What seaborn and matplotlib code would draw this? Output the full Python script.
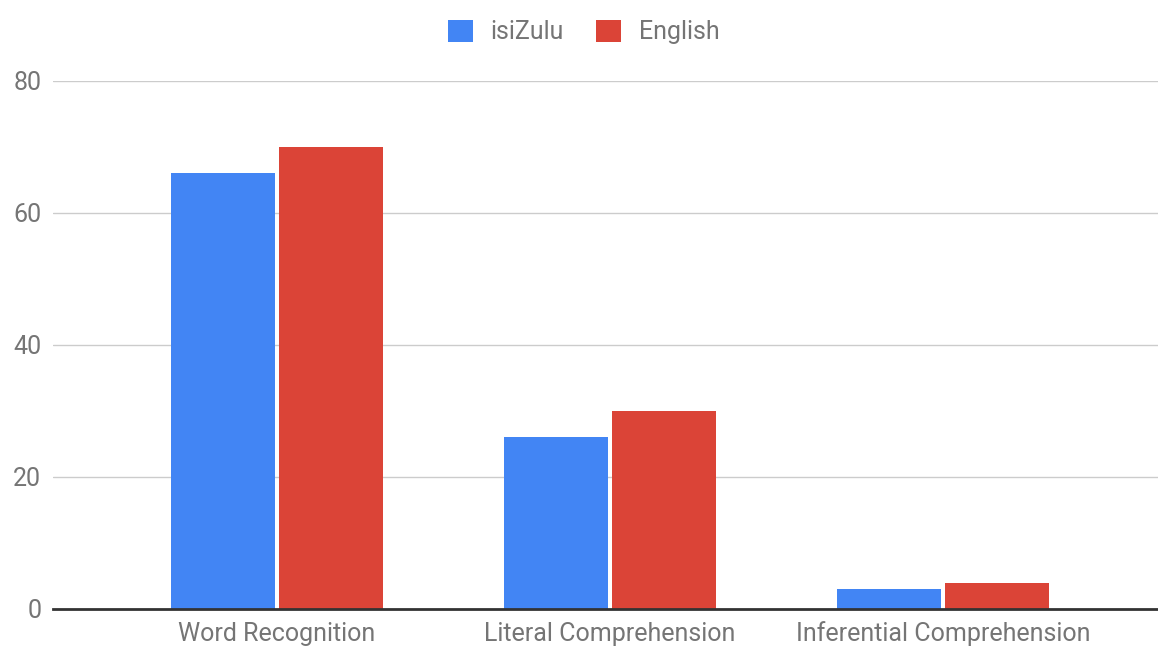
import matplotlib
matplotlib.use("Agg")
import matplotlib.pyplot as plt
import seaborn as sns
import pandas as pd
from matplotlib.patches import Patch

categories = ["Word Recognition", "Literal Comprehension", "Inferential Comprehension"]
isizulu = [66, 26, 3]
english = [70, 30, 4]
series_names = ["isiZulu", "English"]
colors = ["#4285F4", "#DB4437"]
y_ticks = [0, 20, 40, 60, 80]

df = pd.DataFrame({
    "category": categories * 2,
    "value": isizulu + english,
    "language": [series_names[0]] * 3 + [series_names[1]] * 3,
})

sns.set_theme(style="white")
plt.rcParams["font.family"] = ["Roboto", "DejaVu Sans"]

fig = plt.figure(figsize=(11.58, 6.46), dpi=100)
ax = fig.add_axes([53 / 1158, 1 - 609 / 646, 1 - 53 / 1158, (609 - 81) / 646])

sns.barplot(data=df, x="category", y="value", hue="language",
            palette=colors, width=0.645, gap=0.03, ax=ax, saturation=1,
            edgecolor="none", legend=False)

ax.set_xlim(-0.673, 2.646)
ax.set_ylim(0, 80)
ax.set_yticks(y_ticks)
ax.yaxis.grid(True, color="#cccccc", linewidth=1)
ax.set_axisbelow(True)
for s in ["top", "right", "left"]:
    ax.spines[s].set_visible(False)
ax.spines["bottom"].set_color("#333333")
ax.spines["bottom"].set_linewidth(2)
ax.set_xlabel("")
ax.set_ylabel("")
ax.tick_params(axis="both", length=0, labelsize=18, labelcolor="#757575")
ax.tick_params(axis="y", pad=8.5)
ax.tick_params(axis="x", pad=9)

handles = [Patch(facecolor=c, edgecolor="none") for c in colors]
fig.legend(handles, series_names, loc="center", bbox_to_anchor=(0.504, 1 - 32 / 646),
           ncol=2, frameon=False, fontsize=18, labelcolor="#757575",
           handlelength=1.0, handleheight=1.0, handletextpad=0.7, columnspacing=1.3)

fig.savefig("out.png", dpi=100)
